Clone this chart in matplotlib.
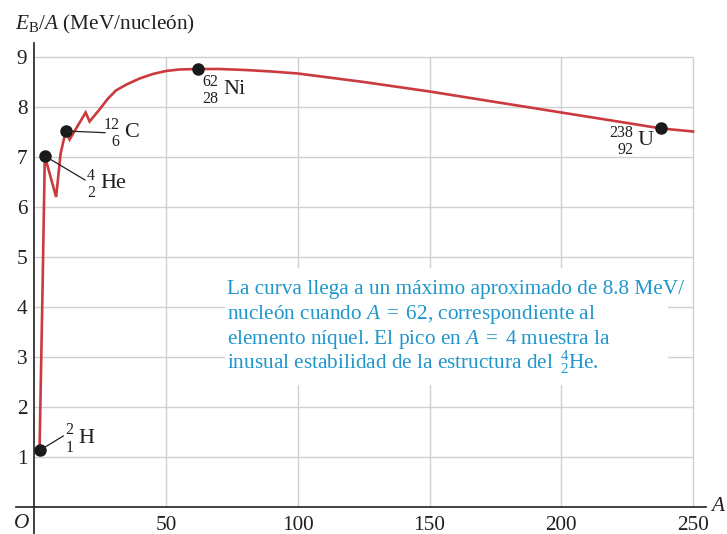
import matplotlib
matplotlib.use("Agg")
import matplotlib.pyplot as plt
from matplotlib.patches import Rectangle
from matplotlib.transforms import offset_copy

plt.rcParams["font.family"] = ["Liberation Serif", "DejaVu Serif"]
plt.rcParams["mathtext.fontset"] = "custom"
plt.rcParams["mathtext.rm"] = "Liberation Serif"
plt.rcParams["mathtext.it"] = "Liberation Serif:italic"
plt.rcParams["mathtext.bf"] = "Liberation Serif:bold"

# Binding energy per nucleon versus mass number
mass_number = [2, 3.07, 3.78, 4, 8.3, 10.0, 11.3, 12, 13.4, 19.5, 21, 24.6,
               28, 31, 35, 40, 45, 50, 55, 62, 70, 80, 90, 100,
               125, 150, 175, 200, 225, 238, 250]
binding_energy = [1.13, 4.14, 6.3, 7.02, 6.2, 7.07, 7.37, 7.52, 7.35, 7.89, 7.71, 7.94,
                  8.17, 8.33, 8.45, 8.57, 8.66, 8.72, 8.75, 8.76, 8.76, 8.74, 8.71, 8.67,
                  8.50, 8.31, 8.10, 7.89, 7.68, 7.57, 7.51]

# Highlighted nuclides
nuclide_A = [2, 4, 12, 62, 238]
nuclide_Z = [1, 2, 6, 28, 92]
nuclide_symbol = ["H", "He", "C", "Ni", "U"]
nuclide_E = [1.13, 7.02, 7.52, 8.76, 7.57]

x_ticks = [50, 100, 150, 200, 250]
y_ticks = [1, 2, 3, 4, 5, 6, 7, 8, 9]

INK = "#231f20"
RED = "#cb3a3f"
BLUE = "#1f96cc"
GRID = "#d0d0d0"
FS = 15.3

fig = plt.figure(figsize=(7.27, 5.34), dpi=100)
ax = fig.add_axes([0.02139, 0.0, 0.9500, 0.9195])
ax.set_xlim(-7.1, 255)
ax.set_ylim(-0.54, 9.28)

for side in ("top", "right"):
    ax.spines[side].set_visible(False)
for side in ("left", "bottom"):
    ax.spines[side].set_position(("data", 0))
    ax.spines[side].set_color(INK)
    ax.spines[side].set_linewidth(1.2)

ax.set_xticks(x_ticks)
ax.set_yticks(y_ticks)
ax.set_xticklabels([str(v) for v in x_ticks])
ax.set_yticklabels([str(v) for v in y_ticks])
ax.tick_params(length=0, labelsize=FS, colors=INK)
ax.tick_params(axis="x", pad=6.5)
ax.tick_params(axis="y", pad=5)

# grid confined to the plotting region
ax.hlines(y_ticks, 0, 250, color=GRID, lw=1.0, zorder=1)
ax.vlines(x_ticks, 0, 9, color=GRID, lw=1.0, zorder=1)

# curve and nuclide markers
ax.plot(mass_number, binding_energy, color=RED, lw=1.9, zorder=3,
        solid_joinstyle="miter")
ax.plot(nuclide_A, nuclide_E, "o", color="#1a1a1a", ms=8, zorder=4)


def nuclide_label(x, y, mass, z, sym):
    ax.text(x, y, sym, fontsize=16, color=INK, ha="left", va="baseline", zorder=5)
    up = offset_copy(ax.transData, fig=fig, x=-3.5, y=6.0, units="points")
    dn = offset_copy(ax.transData, fig=fig, x=-3.5, y=-6.6, units="points")
    ax.text(x, y, str(mass), fontsize=11.5, color=INK, ha="right", va="baseline",
            transform=up, zorder=5)
    ax.text(x, y, str(z), fontsize=11.5, color=INK, ha="right", va="baseline",
            transform=dn, zorder=5)


label_pos = [(16.7, 1.286), (24.95, 6.374), (34.06, 7.40), (71.75, 8.26), (229.1, 7.24)]
leader_end = [(11.0, 1.42), (19.26, 6.54), (26.85, 7.486), None, None]
for A, Z, sym, E, pos, end in zip(nuclide_A, nuclide_Z, nuclide_symbol, nuclide_E,
                                  label_pos, leader_end):
    nuclide_label(pos[0], pos[1], A, Z, sym)
    if end is not None:
        ax.plot([A, end[0]], [E, end[1]], color=INK, lw=0.9, zorder=4)

# explanatory note
ax.add_patch(Rectangle((72.4, 2.44), 168.1, 2.34, facecolor="white",
                       edgecolor="none", zorder=2))
note_lines = [
    "La curva llega a un máximo aproximado de 8.8 MeV/",
    r"nucleón cuando $A\;=\;62$, correspondiente al",
    r"elemento níquel. El pico en $A\;=\;4$ muestra la",
    r"inusual estabilidad de la estructura del $\,{}^{4}_{2}\mathrm{He}$.",
]
for i, line in enumerate(note_lines):
    ax.text(73.15, 4.254 - 0.5 * i, line, fontsize=FS, color=BLUE,
            ha="left", va="baseline", zorder=5)

# axis titles
fig.text(15 / 727, 1 - 29 / 534, r"$E_{\mathrm{B}}/A$ (MeV/nucleón)",
         fontsize=FS, color=INK, ha="left", va="baseline")
ax.text(256.3, 0.0, r"$A$", fontsize=FS, color=INK, ha="left", va="center",
        clip_on=False)
ax.text(-4.85, -0.33, r"$O$", fontsize=FS, color=INK, ha="center", va="center",
        clip_on=False)

fig.savefig("out.png", dpi=100)
